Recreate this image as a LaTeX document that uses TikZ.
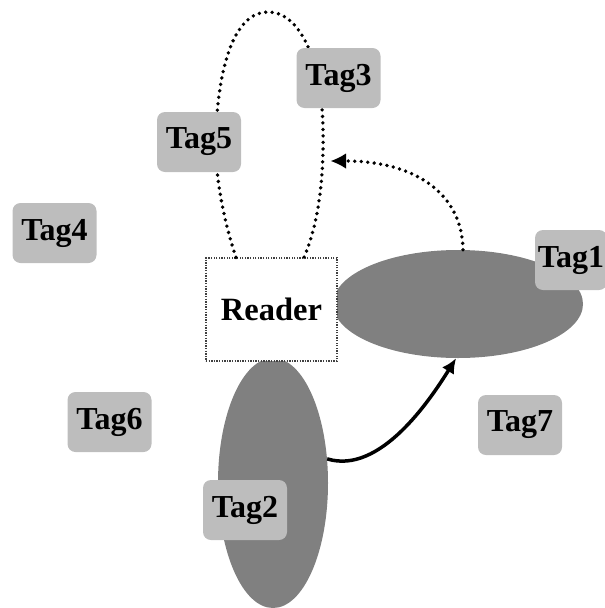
\documentclass[tikz,border=0pt]{standalone}
\usepackage{fontspec}
\setmainfont{Liberation Serif}
\usetikzlibrary{shapes.geometric,arrows.meta}
\definecolor{ellgray}{HTML}{808080}
\definecolor{taggray}{HTML}{BDBDBD}
\begin{document}
\begin{tikzpicture}[x=1pt,y=-1pt,
  tagbox/.style={fill=taggray,rounded corners=8pt,minimum width=84pt,minimum height=60pt,inner sep=0pt,
    font=\fontsize{32}{32}\selectfont\bfseries},
  zone/.style={ellipse,fill=ellgray,inner sep=0pt},
  dotline/.style={line width=3.8pt,line cap=round,dash pattern=on 0pt off 6.5pt},
  readerbox/.style={fill=white,draw=black!75,line width=1.3pt,dash pattern=on 1.3pt off 1.3pt,
    minimum width=131pt,minimum height=103pt,inner sep=0pt,font=\fontsize{32.5}{32.5}\selectfont\bfseries}]
\useasboundingbox (0,0) rectangle (605,608);
% coverage zones
\node[zone,minimum width=250pt,minimum height=108pt] (e1) at (458,304) {};
\node[zone,minimum width=110pt,minimum height=250pt] (e2) at (273,483) {};
% reader
\node[readerbox] (reader) at (271.5,309.5) {Reader};
% dotted loop through Tag5 and Tag3
\coordinate (la) at ([xshift=-35.5pt]reader.north);
\coordinate (lb) at ([xshift=32.5pt]reader.north);
\draw[dotline] (la) .. controls (222,215) and (214,170) .. (216,130)
  .. controls (220,50) and (240,12) .. (268,12)
  .. controls (300,12) and (322,60) .. (323,130)
  .. controls (324,180) and (318,225) .. (lb);
% dotted arrow from zone 1 to the loop
\coordinate (hit) at (331,161);
\coordinate (e1top) at ([xshift=5pt]e1.north);
\draw[dotline,-{Latex[length=15pt,width=15pt,line width=0pt]}] (e1top) .. controls (462,190) and (410,161) .. (hit);
% solid arrow from zone 2 to zone 1
\draw[line width=3.5pt,-{Latex[length=15pt,width=14pt]}] (e2.24) .. controls (380,475) and (430,400) .. (e1.-92);
% tags
\node[tagbox,minimum width=72pt] (tag1) at (571,260) {Tag1};
\node[tagbox] (tag2) at (245,510) {Tag2};
\node[tagbox] (tag3) at (338.5,78) {Tag3};
\node[tagbox] (tag4) at (54.5,233) {Tag4};
\node[tagbox] (tag5) at (199,142) {Tag5};
\node[tagbox] (tag6) at (109.5,422) {Tag6};
\node[tagbox] (tag7) at (520,425) {Tag7};
\end{tikzpicture}
\end{document}
